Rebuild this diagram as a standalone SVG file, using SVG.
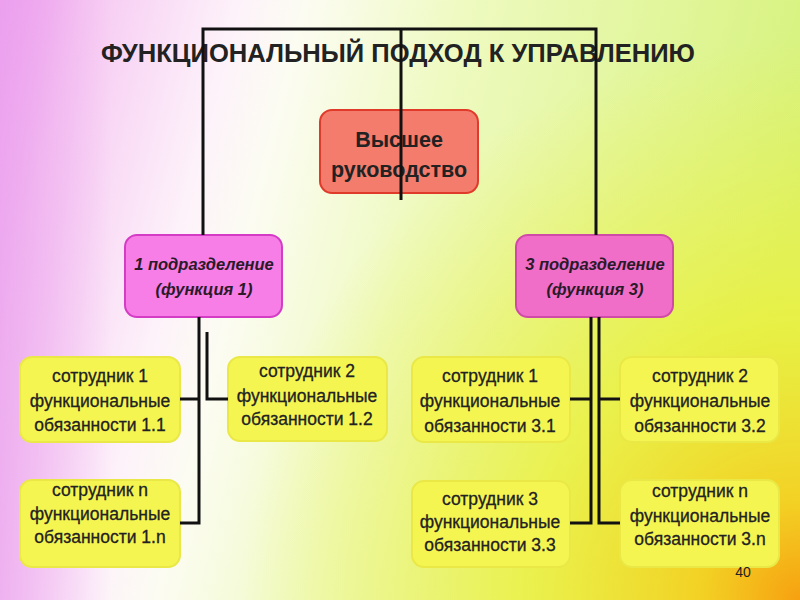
<svg xmlns="http://www.w3.org/2000/svg" width="800" height="600" viewBox="0 0 800 600">
<defs>
<linearGradient id="bg" x1="0" y1="0" x2="800" y2="200" gradientUnits="userSpaceOnUse">
<stop offset="0" stop-color="#f0a0ee"/>
<stop offset="0.1" stop-color="#f6c8f2"/>
<stop offset="0.28" stop-color="#fdf2fa"/>
<stop offset="0.36" stop-color="#fcfcf2"/>
<stop offset="0.55" stop-color="#eefac0"/>
<stop offset="1" stop-color="#d6f27a"/>
</linearGradient>
<linearGradient id="edge" x1="0" y1="0" x2="1" y2="0">
<stop offset="0" stop-color="#eaa0ee" stop-opacity="0.7"/>
<stop offset="0.14" stop-color="#eaa0ee" stop-opacity="0"/>
</linearGradient>
<radialGradient id="warm" cx="800" cy="600" r="560" gradientUnits="userSpaceOnUse">
<stop offset="0" stop-color="#f7a010" stop-opacity="1"/>
<stop offset="0.18" stop-color="#f4d020" stop-opacity="0.95"/>
<stop offset="0.5" stop-color="#eef030" stop-opacity="0.7"/>
<stop offset="1" stop-color="#eef040" stop-opacity="0"/>
</radialGradient>
<style>
.t{font-family:"Liberation Sans",Arial,sans-serif;text-anchor:middle;fill:#222}
.emp rect{fill:#f5f552;stroke:#e9e846;stroke-width:2}
.emp text{font-size:17.5px;fill:#222;stroke:#222;stroke-width:0.3}
.div text{font-size:16.5px;font-style:italic;font-weight:bold;fill:#2a1a2a}
.c{fill:none;stroke:#111;stroke-width:3}
</style>
</defs>
<rect width="800" height="600" fill="url(#bg)"/>
<rect width="800" height="600" fill="url(#edge)"/>
<rect width="800" height="600" fill="url(#warm)"/>

<text class="t" x="398" y="62" font-size="25" font-weight="bold" fill="#1a1a1a" textLength="594" lengthAdjust="spacingAndGlyphs">ФУНКЦИОНАЛЬНЫЙ ПОДХОД К УПРАВЛЕНИЮ</text>

<g id="top">
<rect x="320" y="110" width="158" height="83" rx="12" fill="#f47c6c" stroke="#e03a2a" stroke-width="2"/>
<text class="t" x="399" y="147" font-size="21.5" font-weight="bold" fill="#2a1010">Высшее</text>
<text class="t" x="399" y="177" font-size="21.5" font-weight="bold" fill="#2a1010">руководство</text>
</g>

<g id="div1" class="div">
<rect x="125" y="235" width="157" height="82" rx="12" fill="#f77ee6" stroke="#d43cc6" stroke-width="2"/>
<text class="t" x="204" y="270">1 подразделение</text>
<text class="t" x="204" y="295">(функция 1)</text>
</g>

<g id="div3" class="div">
<rect x="516" y="235" width="157" height="82" rx="12" fill="#f06ec8" stroke="#d04aa8" stroke-width="2"/>
<text class="t" x="595" y="270">3 подразделение</text>
<text class="t" x="595" y="295">(функция 3)</text>
</g>

<g id="e11" class="emp">
<rect x="20" y="357" width="160" height="85" rx="12"/>
<text class="t" x="100" y="382">сотрудник 1</text>
<text class="t" x="100" y="407">функциональные</text>
<text class="t" x="100" y="431">обязанности 1.1</text>
</g>

<g id="e12" class="emp">
<rect x="228" y="357" width="159" height="84" rx="12"/>
<text class="t" x="307" y="377">сотрудник 2</text>
<text class="t" x="307" y="402">функциональные</text>
<text class="t" x="307" y="425">обязанности 1.2</text>
</g>

<g id="e1n" class="emp">
<rect x="20" y="480" width="160" height="87" rx="12"/>
<text class="t" x="100" y="496">сотрудник n</text>
<text class="t" x="100" y="520">функциональные</text>
<text class="t" x="100" y="543">обязанности 1.n</text>
</g>

<g id="e31" class="emp">
<rect x="412" y="357" width="158" height="85" rx="12"/>
<text class="t" x="490" y="382">сотрудник 1</text>
<text class="t" x="490" y="407">функциональные</text>
<text class="t" x="490" y="432">обязанности 3.1</text>
</g>

<g id="e32" class="emp">
<rect x="620" y="357" width="159" height="85" rx="12"/>
<text class="t" x="700" y="382">сотрудник 2</text>
<text class="t" x="700" y="407">функциональные</text>
<text class="t" x="700" y="432">обязанности 3.2</text>
</g>

<g id="e33" class="emp">
<rect x="412" y="481" width="158" height="86" rx="12"/>
<text class="t" x="490" y="505">сотрудник 3</text>
<text class="t" x="490" y="528">функциональные</text>
<text class="t" x="490" y="551">обязанности 3.3</text>
</g>

<g id="e3n" class="emp">
<rect x="620" y="480" width="159" height="87" rx="12"/>
<text class="t" x="700" y="497">сотрудник n</text>
<text class="t" x="700" y="522">функциональные</text>
<text class="t" x="700" y="545">обязанности 3.n</text>
</g>

<text id="page" class="t" x="743" y="577" font-size="14" fill="#888">40</text>

<g id="connectors">
<path class="c" d="M203 235 V29 H596 V235"/>
<path class="c" d="M401 29 V200"/>
<path class="c" d="M199 317 V523 H180 M199 399 H180"/>
<path class="c" d="M207 332 V399 H228"/>
<path class="c" d="M591 317 V523 H570 M591 399 H570"/>
<path class="c" d="M599 317 V523 H620 M599 399 H620"/>
</g>
</svg>
